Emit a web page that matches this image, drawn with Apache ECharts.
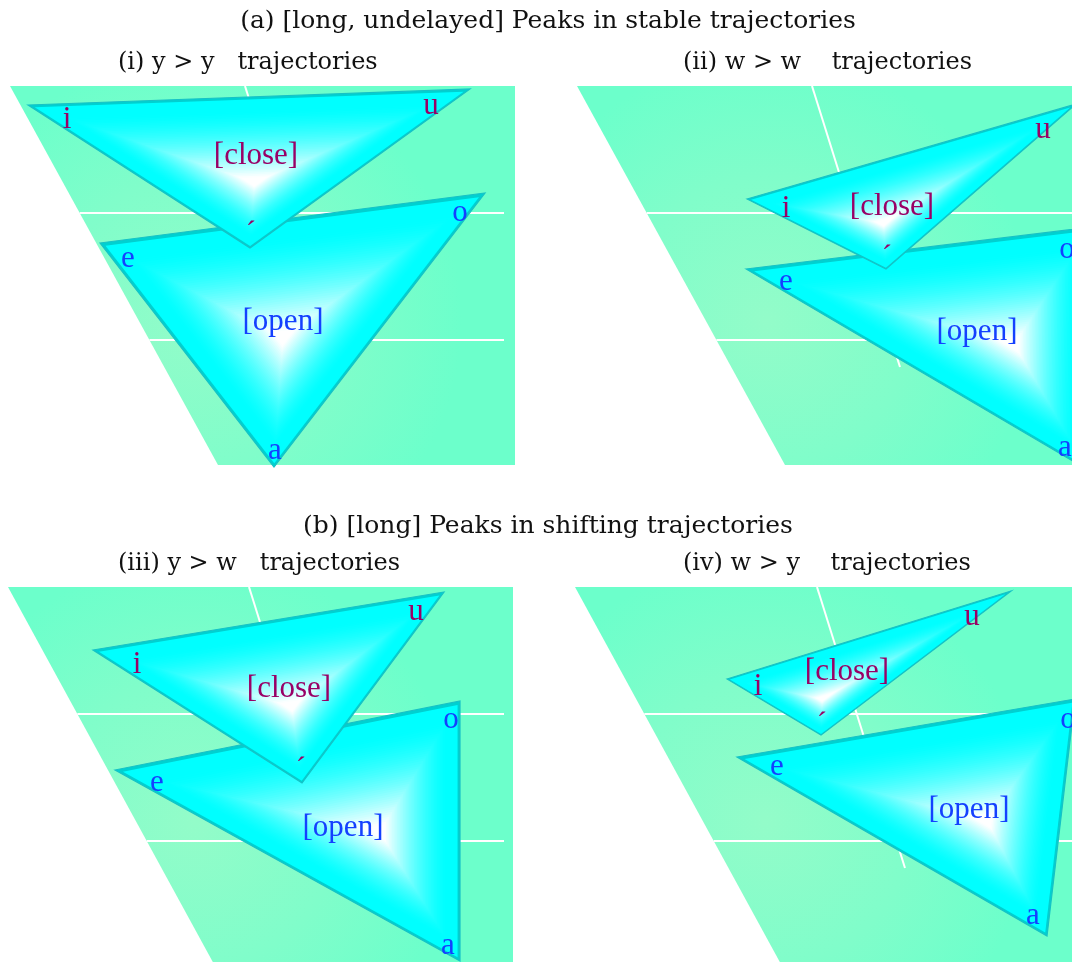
<!DOCTYPE html>
<html>
<head>
<meta charset="utf-8">
<script src="https://cdn.jsdelivr.net/npm/echarts@6.0.0/dist/echarts.min.js"></script>
<style>
  html, body { margin: 0; padding: 0; background: #ffffff; }
  #chart { width: 1072px; height: 962px; }
</style>
</head>
<body>
<div id="chart"></div>
<script>
// ---- Panel headings ----
const sectionTitles = ['(a) [long, undelayed] Peaks in stable trajectories', '(b) [long] Peaks in shifting trajectories'];
const panelTitles = ['(i) y > y   trajectories', '(ii) w > w    trajectories', '(iii) y > w   trajectories', '(iv) w > y    trajectories'];

// ---- Floor plane of each panel (panel units, y grows downward) ----
const floorI   = [[10, 6], [515, 6], [515, 385], [218, 385]];
const floorII  = [[7, 6], [520, 6], [520, 385], [215, 385]];
const floorIII = [[8, 6], [513, 6], [513, 385], [215, 385]];
const floorIV  = [[5, 6], [520, 6], [520, 385], [212, 385]];

// white rules across the floor and the receding depth line
const floorRows = [133, 260];
const floorRowEnd = 504;
const depthLineI   = [[245, 6], [333, 287]];
const depthLineII  = [[242, 6], [330, 287]];
const depthLineIII = [[249, 6], [337, 287]];
const depthLineIV  = [[247, 6], [335, 287]];

// ---- Vowel triangles: [close] i-u-´ and [open] e-o-a ----
const closeI   = [[28, 25], [470, 9], [250, 168]];
const openI    = [[100, 163], [485, 113], [274, 387]];
const closeII  = [[177, 119], [506, 24], [316, 189]];
const openII   = [[176, 189], [522, 147], [518, 390]];
const closeIII = [[93, 69], [444, 11], [302, 202]];
const openIII  = [[115, 189], [460, 120], [460, 380]];
const closeIV  = [[157, 98], [441, 10], [251, 154]];
const openIV   = [[167, 176], [505, 118], [477, 355]];

// ---- Vowel labels [text, x, y] ----
const closeLabelsI   = [['i', 67, 37], ['u', 431, 23], ['[close]', 256, 73], ['´', 251, 141]];
const openLabelsI    = [['e', 128, 176], ['o', 460, 130], ['[open]', 283, 239], ['a', 275, 368]];
const closeLabelsII  = [['i', 216, 126], ['u', 473, 47], ['[close]', 322, 124], ['´', 317, 165]];
const openLabelsII   = [['e', 216, 199], ['o', 497, 167], ['[open]', 407, 249], ['a', 495, 365]];
const closeLabelsIII = [['i', 137, 81], ['u', 416, 28], ['[close]', 289, 105], ['´', 301, 176]];
const openLabelsIII  = [['e', 157, 199], ['o', 451, 136], ['[open]', 343, 244], ['a', 448, 362]];
const closeLabelsIV  = [['i', 188, 103], ['u', 402, 33], ['[close]', 277, 88], ['´', 252, 131]];
const openLabelsIV   = [['e', 207, 183], ['o', 498, 136], ['[open]', 399, 226], ['a', 463, 332]];

const CLOSE_COLOR = '#990066';
const OPEN_COLOR = '#1440ff';
const LABEL_FONT_SIZE = 31;
// one panel unit per pixel; the visible window of every panel
const PANEL_W = 502, PANEL_H = 381;

const panels = [
  { left: 0,   top: 80,  floor: floorI,   depth: depthLineI,   close: closeI,   open: openI,   closeLabels: closeLabelsI,   openLabels: openLabelsI },
  { left: 570, top: 80,  floor: floorII,  depth: depthLineII,  close: closeII,  open: openII,  closeLabels: closeLabelsII,  openLabels: openLabelsII },
  { left: 0,   top: 581, floor: floorIII, depth: depthLineIII, close: closeIII, open: openIII, closeLabels: closeLabelsIII, openLabels: openLabelsIII },
  { left: 570, top: 581, floor: floorIV,  depth: depthLineIV,  close: closeIV,  open: openIV,  closeLabels: closeLabelsIV,  openLabels: openLabelsIV }
];

function coords(api, n) {
  const pts = [];
  for (let k = 0; k < n; k++) pts.push(api.coord([api.value(2 * k), api.value(2 * k + 1)]));
  return pts;
}

// Cyan shading that fades to white toward the triangle's interior
function shade(t) {
  let w = (0.85 - t) / 0.78;
  w = Math.max(0, Math.min(1, w));
  w = Math.pow(w, 1.5);
  const r = Math.round(255 * w);
  return 'rgb(' + r + ',255,255)';
}

function renderFloor(params, api) {
  const pts = coords(api, 4);
  return {
    type: 'polygon',
    shape: { points: pts },
    style: {
      fill: new echarts.graphic.RadialGradient(0.37, 0.62, 0.7, [
        { offset: 0, color: '#93fcc9' },
        { offset: 0.55, color: '#80fdca' },
        { offset: 1, color: '#6cffcb' }
      ])
    }
  };
}

function makeRuleRender(floor, depth) {
  return function (params, api) {
    const children = [];
    // left edge of the floor, used to start each rule
    const a = floor[0], b = floor[3];
    floorRows.forEach(function (row) {
      const x0 = a[0] + (row - a[1]) * (b[0] - a[0]) / (b[1] - a[1]);
      const p0 = api.coord([x0, row]);
      const p1 = api.coord([floorRowEnd, row]);
      children.push({ type: 'line', shape: { x1: p0[0], y1: p0[1], x2: p1[0], y2: p1[1] }, style: { stroke: '#ffffff', lineWidth: 2 } });
    });
    const d0 = api.coord(depth[0]), d1 = api.coord(depth[1]);
    children.push({ type: 'line', shape: { x1: d0[0], y1: d0[1], x2: d1[0], y2: d1[1] }, style: { stroke: '#ffffff', lineWidth: 2 } });
    return { type: 'group', children: children };
  };
}

function renderTriangle(params, api) {
  const p = coords(api, 3);
  const d = function (u, v) { return Math.hypot(u[0] - v[0], u[1] - v[1]); };
  const la = d(p[1], p[2]), lb = d(p[0], p[2]), lc = d(p[0], p[1]);
  const s = la + lb + lc;
  let cx = (la * p[0][0] + lb * p[1][0] + lc * p[2][0]) / s;
  let cy = (la * p[0][1] + lb * p[1][1] + lc * p[2][1]) / s;
  const area = Math.abs((p[1][0] - p[0][0]) * (p[2][1] - p[0][1]) - (p[2][0] - p[0][0]) * (p[1][1] - p[0][1])) / 2;
  const inr = 2 * area / s;
  // highlight sits a little below the incentre
  cx += 0.1 * inr;
  cy += 0.25 * inr;
  const children = [{
    type: 'polygon',
    shape: { points: p },
    style: { fill: '#00d0d0', stroke: '#16c2c6', lineWidth: 1.2, lineJoin: 'miter' }
  }];
  const N = 50;
  for (let k = 0; k < N; k++) {
    const t = 0.97 * (1 - k / N);
    const pts = p.map(function (q) { return [cx + (q[0] - cx) * t, cy + (q[1] - cy) * t]; });
    children.push({ type: 'polygon', shape: { points: pts }, style: { fill: shade(t) } });
  }
  return { type: 'group', children: children };
}

function makeLabelRender(labels, color) {
  return function (params, api) {
    const p = api.coord([api.value(0), api.value(1)]);
    const txt = labels[params.dataIndex][0];
    // the acute mark sits high on its line
    const nudge = txt === '´' ? 13 : 3;
    return {
      type: 'text',
      x: p[0],
      y: p[1] + nudge,
      style: {
        text: txt,
        fill: color,
        font: LABEL_FONT_SIZE + 'px "Liberation Serif", serif',
        align: 'center',
        verticalAlign: 'middle'
      }
    };
  };
}

const grids = [], xAxes = [], yAxes = [], series = [];
panels.forEach(function (pn, i) {
  grids.push({ left: pn.left, top: pn.top, width: PANEL_W, height: PANEL_H });
  xAxes.push({ type: 'value', gridIndex: i, min: 0, max: PANEL_W, show: false });
  yAxes.push({ type: 'value', gridIndex: i, min: 0, max: PANEL_H, inverse: true, show: false });
  const base = { type: 'custom', xAxisIndex: i, yAxisIndex: i, clip: false, silent: true };
  series.push(Object.assign({}, base, { name: 'floor', renderItem: renderFloor, data: [pn.floor.flat()] }));
  series.push(Object.assign({}, base, { name: 'rules', renderItem: makeRuleRender(pn.floor, pn.depth), data: [[0, 0]] }));
  series.push(Object.assign({}, base, { name: 'open', renderItem: renderTriangle, data: [pn.open.flat()] }));
  series.push(Object.assign({}, base, { name: 'close', renderItem: renderTriangle, data: [pn.close.flat()] }));
  series.push(Object.assign({}, base, { name: 'open labels', renderItem: makeLabelRender(pn.openLabels, OPEN_COLOR), data: pn.openLabels.map(function (l) { return [l[1], l[2]]; }) }));
  series.push(Object.assign({}, base, { name: 'close labels', renderItem: makeLabelRender(pn.closeLabels, CLOSE_COLOR), data: pn.closeLabels.map(function (l) { return [l[1], l[2]]; }) }));
});

const sectionFont = '25px "DejaVu Serif", serif';
const panelFont = '24px "DejaVu Serif", serif';
const graphics = [
  { type: 'text', x: 548, y: 21, style: { text: sectionTitles[0], font: sectionFont, fill: '#111', align: 'center', verticalAlign: 'middle' } },
  { type: 'text', x: 548, y: 526, style: { text: sectionTitles[1], font: sectionFont, fill: '#111', align: 'center', verticalAlign: 'middle' } },
  { type: 'text', x: 118, y: 63, style: { text: panelTitles[0], font: panelFont, fill: '#111', align: 'left', verticalAlign: 'middle' } },
  { type: 'text', x: 683, y: 63, style: { text: panelTitles[1], font: panelFont, fill: '#111', align: 'left', verticalAlign: 'middle' } },
  { type: 'text', x: 118, y: 564, style: { text: panelTitles[2], font: panelFont, fill: '#111', align: 'left', verticalAlign: 'middle' } },
  { type: 'text', x: 683, y: 564, style: { text: panelTitles[3], font: panelFont, fill: '#111', align: 'left', verticalAlign: 'middle' } }
];

const chart = echarts.init(document.getElementById('chart'), null, { renderer: 'canvas' });
chart.setOption({
  animation: false,
  backgroundColor: '#ffffff',
  grid: grids,
  xAxis: xAxes,
  yAxis: yAxes,
  series: series,
  graphic: graphics
});
</script>
</body>
</html>
